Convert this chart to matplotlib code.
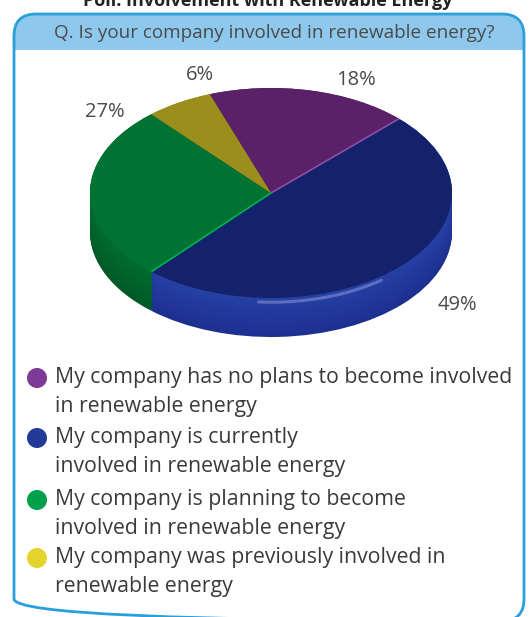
import matplotlib.pyplot as plt
import numpy as np
from matplotlib.patches import FancyBboxPatch, Rectangle, Circle
from matplotlib.colors import to_rgb

plt.rcParams['font.family'] = ['Open Sans', 'DejaVu Sans']

title = "Poll: Involvement with Renewable Energy"
question = "Q. Is your company involved in renewable energy?"
categories = [
    "My company has no plans to become involved\nin renewable energy",
    "My company is currently\ninvolved in renewable energy",
    "My company is planning to become\ninvolved in renewable energy",
    "My company was previously involved in\nrenewable energy",
]
shares = [18, 49, 27, 6]

top_colors = ['#5a2168', '#13226b', '#007232', '#9c8e1c']
side_top = ['#4e1c5c', '#2640a4', '#006c2e', '#8a7d18']
side_bottom = ['#3c1548', '#1d3090', '#005a26', '#6f6512']
key_colors = ['#7d3a97', '#233a98', '#00a04b', '#e4d42e']
# label spots in ellipse-normalised units (x / rx, y / ry)
label_spots = [(0.47, 1.08), (1.03, -1.07), (-0.92, 0.77), (-0.39, 1.12)]

W, H = 530, 617
fig = plt.figure(figsize=(W / 100, H / 100), dpi=100)

# background panel in pixel coordinates
bg = fig.add_axes([0, 0, 1, 1])
bg.set_xlim(0, W)
bg.set_ylim(H, 0)
bg.axis('off')

border = '#2a9fdc'
header = '#8ec8ec'
box_h = 607
bg.add_patch(FancyBboxPatch((14, 14), 510, box_h, boxstyle="round,pad=0,rounding_size=22",
                            facecolor='white', edgecolor='none'))
bg.add_patch(FancyBboxPatch((14, 14), 510, 70, boxstyle="round,pad=0,rounding_size=22",
                            facecolor=header, edgecolor='none'))
bg.add_patch(Rectangle((14, 50), 510, 40, facecolor='white', edgecolor='none'))
bg.add_patch(FancyBboxPatch((14, 14), 510, box_h, boxstyle="round,pad=0,rounding_size=22",
                            facecolor='none', edgecolor=border, linewidth=2))

bg.text(268, 1, title, ha='center', va='center', fontsize=13, fontweight='bold', color='#222222')
bg.text(274, 33, question, ha='center', va='center', fontsize=13.6, color='#4a4a4a')

# legend
text_color = '#3a3a3a'
key_y = [378, 438, 500, 558]
for c, label, y in zip(key_colors, categories, key_y):
    bg.add_patch(Circle((37, y), 10, facecolor=c, edgecolor='none'))
    bg.text(55, y - 11, label, ha='left', va='top', fontsize=15.3, color=text_color,
            linespacing=1.5)

# 3D-style pie
cx, cy, rx, ry, depth_px = 271, 193, 181, 105, 39
depth = depth_px / ry
m = 0.06
left = (cx - rx * (1 + m)) / W
width = 2 * rx * (1 + m) / W
top_px = cy - ry * (1 + m)
bot_px = cy + ry * (1 + depth + m)
ax = fig.add_axes([left, 1 - bot_px / H, width, (bot_px - top_px) / H])

start = 45 + shares[0] / sum(shares) * 360
n_layers = 40
for i, k in enumerate(np.linspace(depth, 0, n_layers)):
    t = i / (n_layers - 1)
    cols = [tuple((1 - t) * np.array(to_rgb(b)) + t * np.array(to_rgb(a)))
            for a, b in zip(side_top, side_bottom)]
    ax.pie(shares, startangle=start, counterclock=False, colors=cols,
           center=(0, -k), radius=1, wedgeprops=dict(linewidth=0))

wedges, _ = ax.pie(shares, startangle=start, counterclock=False, colors=top_colors,
                   radius=1, wedgeprops=dict(linewidth=0))

# light seams on the slice boundaries
for ang, col in [(wedges[0].theta1, '#8b4fa5'), (wedges[2].theta2, '#00b050')]:
    a = np.radians(ang)
    ax.plot([0, np.cos(a)], [0, np.sin(a)], color=col, lw=1.2, solid_capstyle='butt')

# highlight along the front rim
a = np.radians(np.linspace(-94, -52, 40))
ax.plot(np.cos(a) * 0.99, np.sin(a) * 0.99 - 0.05, color='#8c96d8', lw=2.2, alpha=0.55,
        solid_capstyle='round')

for v, (lx, ly) in zip(shares, label_spots):
    ax.text(lx, ly, f"{v}%", ha='center', va='center', fontsize=14.5, color='#4a4a4a')

ax.set_aspect('auto')
ax.set_xlim(-1 - m, 1 + m)
ax.set_ylim(-1 - depth - m, 1 + m)
ax.axis('off')

fig.savefig('out.png', dpi=100)
